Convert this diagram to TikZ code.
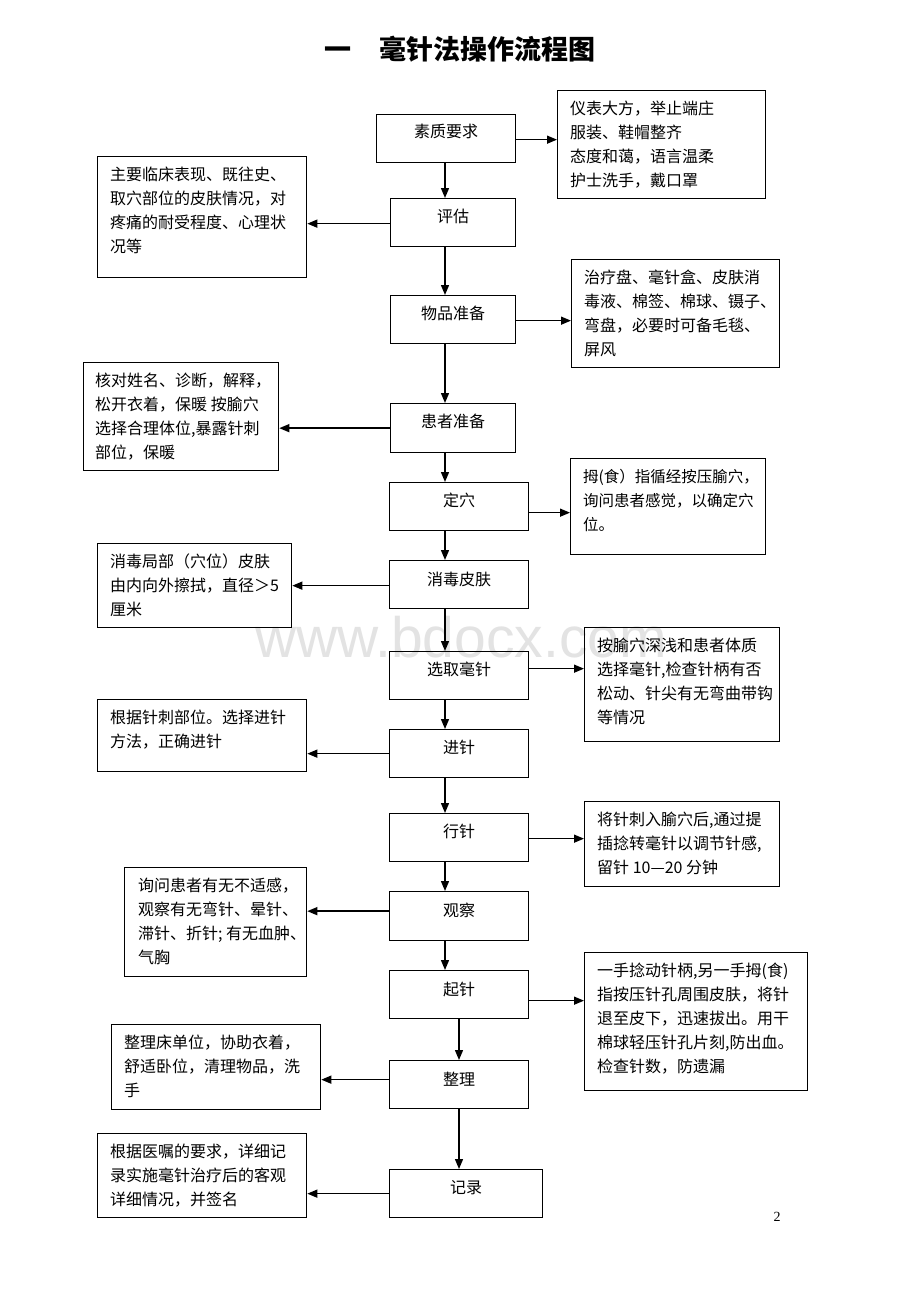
\documentclass[tikz,border=0pt]{standalone}
\usepackage{fontspec}
\setmainfont{Liberation Serif}
\newfontfamily\cjk{Noto Sans CJK SC}
\newfontfamily\wmfont{Liberation Sans}
\usetikzlibrary{arrows.meta,calc}
\tikzset{
  mbox/.style={draw, line width=1.3pt, inner sep=0pt, anchor=north west},
  mtxt/.style={font=\cjk\fontsize{16}{24}\selectfont, inner sep=0pt},
  stxt/.style={font=\cjk\fontsize{16}{24}\selectfont, inner sep=0pt, align=left, anchor=north west},
  arr/.style={line width=1.4pt, -{Triangle[length=10pt,width=8pt]}},
}
\begin{document}
\begin{tikzpicture}[x=1pt,y=-1pt]
\useasboundingbox (0,0) rectangle (920,1302);
\fill[white] (0,0) rectangle (920,1302);
% watermark
\node[font=\wmfont\fontsize{57}{57}\selectfont, text=black!11, inner sep=0pt] (wm) at (461,637) {www.bdocx.com};
% title
\node[font=\cjk\bfseries\fontsize{27}{27}\selectfont, inner sep=0pt] (title) at (460,49) {一\hspace{1.05em}毫针法操作流程图};
% page number
\node[font=\fontsize{14}{14}\selectfont, inner sep=0pt] (pg) at (777,1217) {2};

% main boxes
\node[mbox, minimum width=139pt, minimum height=48pt] (b1) at (376,114) {};
\node[mbox, minimum width=125pt, minimum height=48pt] (b2) at (390,198) {};
\node[mbox, minimum width=125pt, minimum height=48pt] (b3) at (390,295) {};
\node[mbox, minimum width=125pt, minimum height=49pt] (b4) at (390,403) {};
\node[mbox, minimum width=139pt, minimum height=48pt] (b5) at (389,482) {};
\node[mbox, minimum width=139pt, minimum height=48pt] (b6) at (389,560) {};
\node[mbox, minimum width=139pt, minimum height=48pt] (b7) at (389,651) {};
\node[mbox, minimum width=139pt, minimum height=48pt] (b8) at (389,729) {};
\node[mbox, minimum width=139pt, minimum height=48pt] (b9) at (389,813) {};
\node[mbox, minimum width=139pt, minimum height=49pt] (b10) at (389,891) {};
\node[mbox, minimum width=139pt, minimum height=48pt] (b11) at (389,970) {};
\node[mbox, minimum width=139pt, minimum height=48pt] (b12) at (389,1060) {};
\node[mbox, minimum width=153pt, minimum height=48pt] (b13) at (389,1169) {};

\node[mtxt] (t1) at ([yshift=-17pt]b1.north) {素质要求};
\node[mtxt] (t2) at ([yshift=-18pt]b2.north) {评估};
\node[mtxt] (t3) at ([yshift=-18pt]b3.north) {物品准备};
\node[mtxt] (t4) at ([yshift=-18pt]b4.north) {患者准备};
\node[mtxt] (t5) at ([yshift=-18pt]b5.north) {定穴};
\node[mtxt] (t6) at ([yshift=-19pt]b6.north) {消毒皮肤};
\node[mtxt] (t7) at ([yshift=-18pt]b7.north) {选取毫针};
\node[mtxt] (t8) at ([yshift=-18pt]b8.north) {进针};
\node[mtxt] (t9) at ([yshift=-18pt]b9.north) {行针};
\node[mtxt] (t10) at ([yshift=-19pt]b10.north) {观察};
\node[mtxt] (t11) at ([yshift=-19pt]b11.north) {起针};
\node[mtxt] (t12) at ([yshift=-19pt]b12.north) {整理};
\node[mtxt] (t13) at ([yshift=-19pt]b13.north) {记录};

% side boxes
\node[mbox, minimum width=208pt, minimum height=108pt] (r1) at (557,90) {};
\node[stxt] (r1t) at ([shift={(13pt,-11pt)}]r1.north west) {仪表大方，举止端庄\\服装、鞋帽整齐\\态度和蔼，语言温柔\\护士洗手，戴口罩};

\node[mbox, minimum width=209pt, minimum height=121pt] (l1) at (97,156) {};
\node[stxt] (l1t) at ([shift={(13pt,-11pt)}]l1.north west) {主要临床表现、既往史、\\取穴部位的皮肤情况，对\\疼痛的耐受程度、心理状\\况等};

\node[mbox, minimum width=208pt, minimum height=108pt] (r2) at (571,259) {};
\node[stxt] (r2t) at ([shift={(13pt,-11pt)}]r2.north west) {治疗盘、毫针盒、皮肤消\\毒液、棉签、棉球、镊子、\\弯盘，必要时可备毛毯、\\屏风};

\node[mbox, minimum width=195pt, minimum height=108pt] (l2) at (83,362) {};
\node[stxt] (l2t) at ([shift={(12pt,-11pt)}]l2.north west) {核对姓名、诊断，解释，\\松开衣着，保暖 按腧穴\\选择合理体位,暴露针刺\\部位，保暖};

\node[mbox, minimum width=195pt, minimum height=96pt] (r3) at (570,458) {};
\node[stxt, font=\cjk\fontsize{15.5}{24}\selectfont] (r3t) at ([shift={(13pt,-11pt)}]r3.north west) {拇(食）指循经按压腧穴，\\询问患者感觉，以确定穴\\位。};

\node[mbox, minimum width=194pt, minimum height=84pt] (l3) at (97,543) {};
\node[stxt] (l3t) at ([shift={(13pt,-11pt)}]l3.north west) {消毒局部（穴位）皮肤\\由内向外擦拭，直径＞5\\厘米};

\node[mbox, minimum width=195pt, minimum height=114pt] (r4) at (584,627) {};
\node[stxt] (r4t) at ([shift={(13pt,-11pt)}]r4.north west) {按腧穴深浅和患者体质\\选择毫针,检查针柄有否\\松动、针尖有无弯曲带钩\\等情况};

\node[mbox, minimum width=209pt, minimum height=72pt] (l4) at (97,699) {};
\node[stxt] (l4t) at ([shift={(13pt,-11pt)}]l4.north west) {根据针刺部位。选择进针\\方法，正确进针};

\node[mbox, minimum width=195pt, minimum height=85pt] (r5) at (584,801) {};
\node[stxt] (r5t) at ([shift={(13pt,-11pt)}]r5.north west) {将针刺入腧穴后,通过提\\插捻转毫针以调节针感,\\留针 10—20 分钟};

\node[mbox, minimum width=182pt, minimum height=109pt] (l5) at (124,867) {};
\node[stxt] (l5t) at ([shift={(14pt,-11pt)}]l5.north west) {询问患者有无不适感，\\观察有无弯针、晕针、\\滞针、折针; 有无血肿、\\气胸};

\node[mbox, minimum width=223pt, minimum height=138pt] (r6) at (584,952) {};
\node[stxt] (r6t) at ([shift={(13pt,-11pt)}]r6.north west) {一手捻动针柄,另一手拇(食)\\指按压针孔周围皮肤，将针\\退至皮下，迅速拔出。用干\\棉球轻压针孔片刻,防出血。\\检查针数，防遗漏};

\node[mbox, minimum width=209pt, minimum height=85pt] (l6) at (111,1024) {};
\node[stxt] (l6t) at ([shift={(13pt,-11pt)}]l6.north west) {整理床单位，协助衣着，\\舒适卧位，清理物品，洗\\手};

\node[mbox, minimum width=209pt, minimum height=84pt] (l7) at (97,1133) {};
\node[stxt] (l7t) at ([shift={(13pt,-11pt)}]l7.north west) {根据医嘱的要求，详细记\\录实施毫针治疗后的客观\\详细情况，并签名};

% vertical connectors
\coordinate (ax) at (445,0);
\coordinate (bx) at (459,0);
\draw[arr] (b1.south -| ax) -- (b2.north -| ax);
\draw[arr] (b2.south -| ax) -- (b3.north -| ax);
\draw[arr] (b3.south -| ax) -- (b4.north -| ax);
\draw[arr] (b4.south -| ax) -- (b5.north -| ax);
\draw[arr] (b5.south -| ax) -- (b6.north -| ax);
\draw[arr] (b6.south -| ax) -- (b7.north -| ax);
\draw[arr] (b7.south -| ax) -- (b8.north -| ax);
\draw[arr] (b8.south -| ax) -- (b9.north -| ax);
\draw[arr] (b9.south -| ax) -- (b10.north -| ax);
\draw[arr] (b10.south -| ax) -- (b11.north -| ax);
\draw[arr] (b11.south -| bx) -- (b12.north -| bx);
\draw[arr] (b12.south -| bx) -- (b13.north -| bx);

% side connectors
\draw[arr] ([yshift=-1pt]b1.east) -- ([yshift=-1pt]b1.east -| r1.west);
\draw[arr] ([yshift=-1pt]b2.west) -- ([yshift=-1pt]b2.west -| l1.east);
\draw[arr] ([yshift=-1pt]b3.east) -- ([yshift=-1pt]b3.east -| r2.west);
\draw[arr] (b4.west) -- (b4.west -| l2.east);
\draw[arr] ([yshift=-6pt]b5.east) -- ([yshift=-6pt]b5.east -| r3.west);
\draw[arr] ([yshift=-1pt]b6.west) -- ([yshift=-1pt]b6.west -| l3.east);
\draw[arr] ([yshift=7pt]b7.east) -- ([yshift=7pt]b7.east -| r4.west);
\draw[arr] (b8.west) -- (b8.west -| l4.east);
\draw[arr] ([yshift=-1pt]b9.east) -- ([yshift=-1pt]b9.east -| r5.west);
\draw[arr] ([yshift=5pt]b10.west) -- ([yshift=5pt]b10.west -| l5.east);
\draw[arr] ([yshift=-6pt]b11.east) -- ([yshift=-6pt]b11.east -| r6.west);
\draw[arr] ([yshift=5pt]b12.west) -- ([yshift=5pt]b12.west -| l6.east);
\draw[arr] (b13.west) -- (b13.west -| l7.east);
\end{tikzpicture}
\end{document}
